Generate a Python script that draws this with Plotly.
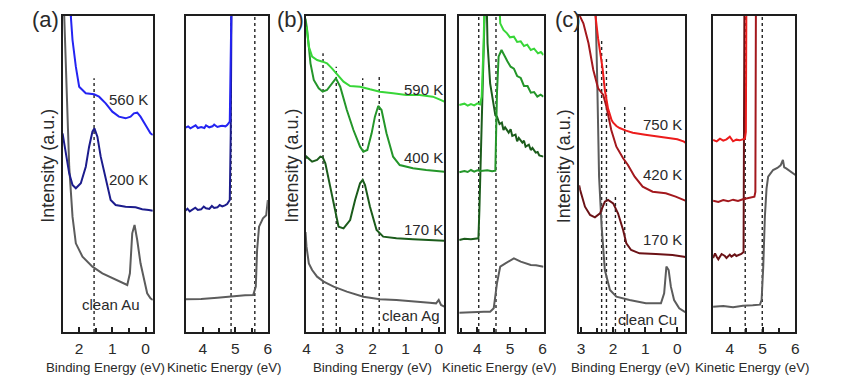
import plotly.graph_objects as go

# page body has an 8px margin; the figure is drawn from (8, 8)
OFF = 8
W, H = 844 - OFF, 388 - OFF

# ---------------- Panel (a): Au ----------------
au_be_560_x = [2.3, 2.25, 2.2, 2.1, 2.0, 1.8, 1.55, 1.4, 1.2, 1.0, 0.8, 0.6, 0.45, 0.35, 0.25, 0.15, 0.0, -0.15, -0.22]
au_be_560_y = [1100, 946, 876, 796, 736, 716, 713, 706, 686, 661, 646, 641, 646, 656, 658, 646, 621, 596, 591]
au_be_200_x = [2.5, 2.4, 2.3, 2.2, 2.1, 1.95, 1.8, 1.7, 1.6, 1.54, 1.45, 1.35, 1.2, 1.05, 0.9, 0.6, 0.3, 0.1, -0.1, -0.22]
au_be_200_y = [596, 536, 476, 441, 431, 446, 496, 556, 601, 611, 586, 526, 456, 396, 381, 376, 374, 368, 366, 364]
au_be_clean_x = [2.5, 2.45, 2.35, 2.3, 2.2, 2.1, 1.9, 1.6, 1.3, 1.0, 0.7, 0.55, 0.47, 0.4, 0.33, 0.25, 0.15, 0.05, -0.05, -0.15, -0.22]
au_be_clean_y = [1100, 946, 696, 496, 346, 266, 226, 196, 176, 161, 146, 141, 176, 296, 321, 276, 206, 156, 116, 101, 96]

au_ke_560_x = [3.47, 3.55, 3.62, 3.7, 3.78, 3.85, 3.95, 4.05, 4.1, 4.2, 4.3, 4.35, 4.45, 4.55, 4.6, 4.7, 4.75, 4.83, 4.87, 4.9]
au_ke_560_y = [613, 617, 611, 616, 620, 612, 615, 612, 620, 614, 617, 622, 615, 618, 619, 617, 621, 631, 796, 1100]
au_ke_200_x = [3.47, 3.53, 3.6, 3.7, 3.77, 3.85, 3.95, 4.03, 4.1, 4.2, 4.28, 4.35, 4.45, 4.52, 4.6, 4.68, 4.75, 4.83, 4.86, 4.89]
au_ke_200_y = [364, 370, 362, 367, 373, 366, 368, 376, 371, 369, 378, 372, 374, 381, 377, 380, 384, 396, 596, 1100]
au_ke_clean_x = [3.47, 3.95, 4.45, 4.95, 5.3, 5.55, 5.63, 5.67, 5.73, 5.85, 5.95, 6.0]
au_ke_clean_y = [98, 99, 103, 108, 110, 111, 136, 246, 316, 341, 350, 396]

au_be_marks = [1.55]
au_be_mark_tops = [761]
au_ke_marks = [4.87, 5.6]

# ---------------- Panel (b): Ag ----------------
ag_be_590_x = [4.0, 3.93, 3.83, 3.68, 3.51, 3.38, 3.23, 3.08, 2.88, 2.68, 2.38, 2.08, 1.78, 1.38, 0.98, 0.58, 0.18, -0.02, -0.17]
ag_be_590_y = [916, 856, 826, 816, 811, 806, 791, 774, 751, 738, 736, 728, 721, 716, 711, 711, 706, 698, 691]
ag_be_400_x = [4.03, 3.98, 3.88, 3.78, 3.63, 3.51, 3.38, 3.23, 3.11, 2.98, 2.78, 2.58, 2.38, 2.28, 2.16, 2.03, 1.93, 1.83, 1.73, 1.58, 1.38, 1.18, 0.78, 0.38, 0.08, -0.17]
ag_be_400_y = [940, 906, 806, 756, 731, 721, 726, 746, 761, 736, 666, 606, 556, 541, 546, 596, 646, 678, 666, 596, 526, 501, 491, 486, 484, 481]
ag_be_170_x = [4.03, 4.0, 3.83, 3.68, 3.58, 3.51, 3.43, 3.28, 3.13, 3.03, 2.88, 2.68, 2.53, 2.38, 2.3, 2.23, 2.08, 1.88, 1.68, 1.28, 0.78, 0.28, -0.17]
ag_be_170_y = [520, 526, 511, 516, 526, 524, 506, 436, 356, 316, 311, 336, 396, 446, 456, 441, 376, 306, 286, 281, 278, 276, 274]
ag_be_clean_x = [4.03, 4.0, 3.93, 3.83, 3.68, 3.48, 3.18, 2.78, 2.28, 1.78, 1.28, 0.78, 0.28, 0.08, 0.0, -0.07, -0.17]
ag_be_clean_y = [300, 256, 206, 186, 166, 151, 136, 121, 106, 98, 96, 93, 88, 86, 96, 81, 76]

ag_ke_590_x = [3.44, 3.6, 3.7, 3.8, 3.9, 4.0, 4.08, 4.13, 4.19, 4.24, 4.63, 4.70, 4.8, 4.91, 5.0, 5.12, 5.22, 5.33, 5.43, 5.53, 5.64, 5.74, 5.86, 5.95, 6.03]
ag_ke_590_y = [681, 685, 679, 684, 680, 686, 683, 706, 866, 1100, 1100, 926, 906, 896, 884, 886, 870, 872, 858, 862, 846, 850, 836, 840, 831]
ag_ke_400_x = [3.44, 3.6, 3.7, 3.8, 3.9, 4.0, 4.1, 4.3, 4.45, 4.55, 4.6, 4.65, 4.74, 4.81, 4.92, 5.02, 5.12, 5.22, 5.33, 5.43, 5.54, 5.64, 5.74, 5.84, 5.94, 6.03]
ag_ke_400_y = [479, 483, 480, 486, 481, 485, 483, 485, 482, 484, 716, 826, 846, 831, 812, 796, 790, 768, 762, 738, 738, 718, 720, 706, 712, 706]
ag_ke_170_x = [3.44, 3.6, 3.8, 4.03, 4.06, 4.13, 4.21, 4.26, 4.31, 4.39, 4.5, 4.55, 4.6, 4.68, 4.75, 4.8, 4.85, 4.96, 5.02, 5.07, 5.17, 5.22, 5.27, 5.38, 5.43, 5.48, 5.58, 5.64, 5.69, 5.79, 5.85, 5.9, 6.03]
ag_ke_170_y = [276, 280, 278, 281, 366, 666, 916, 1100, 866, 746, 676, 650, 646, 624, 628, 606, 614, 598, 608, 588, 592, 572, 582, 568, 574, 556, 562, 546, 552, 538, 540, 530, 526]
ag_ke_clean_x = [3.44, 3.8, 4.2, 4.39, 4.5, 4.6, 4.7, 4.86, 5.0, 5.12, 5.33, 5.5, 5.64, 5.8, 6.03]
ag_ke_clean_y = [58, 60, 61, 61, 71, 146, 196, 206, 214, 221, 211, 206, 201, 200, 196]

ag_be_marks = [3.5, 3.1, 2.3, 1.8]
ag_be_mark_tops = [836, 796, 761, 766]
ag_ke_marks = [4.04, 4.57]

# ---------------- Panel (c): Cu ----------------
cu_be_750_x = [2.6, 2.55, 2.47, 2.41, 2.33, 2.26, 2.16, 2.05, 2.0, 1.9, 1.8, 1.6, 1.39, 1.0, 0.67, 0.15, 0.0, -0.21, -0.25]
cu_be_750_y = [1100, 946, 880, 846, 790, 726, 670, 636, 628, 618, 612, 604, 598, 592, 588, 582, 578, 571, 568]
cu_be_420_x = [3.06, 3.03, 2.93, 2.77, 2.62, 2.47, 2.31, 2.21, 2.06, 1.9, 1.69, 1.54, 1.33, 1.08, 0.77, 0.36, 0.05, -0.21, -0.25]
cu_be_420_y = [950, 946, 926, 866, 786, 731, 711, 676, 606, 556, 521, 501, 466, 436, 421, 416, 406, 396, 394]
cu_be_170_x = [3.06, 3.03, 2.88, 2.72, 2.57, 2.41, 2.26, 2.16, 2.0, 1.85, 1.69, 1.59, 1.44, 1.18, 0.67, 0.15, -0.21, -0.25]
cu_be_170_y = [440, 426, 376, 351, 344, 356, 391, 396, 386, 356, 306, 266, 246, 236, 234, 231, 226, 225]
cu_be_clean_x = [2.58, 2.54, 2.5, 2.44, 2.36, 2.26, 2.1, 1.9, 1.49, 0.98, 0.51, 0.41, 0.34, 0.27, 0.2, 0.1, -0.06, -0.22, -0.25]
cu_be_clean_y = [1100, 946, 766, 466, 316, 186, 126, 106, 96, 86, 86, 116, 196, 186, 136, 96, 71, 61, 60]

cu_ke_750_x = [3.49, 3.6, 3.7, 3.8, 3.9, 4.0, 4.1, 4.2, 4.3, 4.4, 4.46, 4.49, 4.51]
cu_ke_750_y = [576, 572, 580, 574, 578, 586, 572, 577, 575, 578, 580, 600, 1100]
cu_ke_420_x = [3.49, 3.65, 3.8, 3.95, 4.1, 4.25, 4.4, 4.6, 4.75, 4.78, 4.8]
cu_ke_420_y = [394, 390, 396, 392, 397, 393, 398, 402, 406, 420, 1100]
cu_ke_170_x = [3.49, 3.55, 3.6, 3.65, 3.75, 3.85, 3.9, 4.0, 4.05, 4.15, 4.2, 4.3, 4.35, 4.42, 4.45]
cu_ke_170_y = [222, 236, 226, 218, 234, 228, 222, 232, 226, 233, 228, 231, 234, 240, 1100]
cu_ke_clean_x = [3.49, 3.8, 4.1, 4.4, 4.7, 4.92, 4.97, 5.02, 5.07, 5.12, 5.17, 5.32, 5.45, 5.55, 5.62, 5.66, 5.72, 5.87, 6.0]
cu_ke_clean_y = [76, 78, 74, 79, 80, 82, 96, 196, 346, 430, 466, 486, 492, 500, 516, 494, 491, 481, 471]

cu_be_marks = [2.36, 2.21, 1.93, 1.64]
cu_be_mark_tops = [876, 820, 411, 676]
cu_ke_marks = [4.47, 4.99]

# ---------------- labels ----------------
au_labels = ["560 K", "200 K", "clean Au"]
au_label_x = [0.5, 0.5, 1.05]
au_label_y = [696, 456, 84]
ag_labels = ["590 K", "400 K", "170 K", "clean Ag"]
ag_label_x = [0.46, 0.46, 0.46, 0.83]
ag_label_y = [728, 524, 306, 51]
cu_labels = ["750 K", "420 K", "170 K", "clean Cu"]
cu_label_x = [0.46, 0.46, 0.46, 0.92]
cu_label_y = [621, 471, 276, 38]
panel_letters = ["(a)", "(b)", "(c)"]

# ---------------- styling ----------------
C_GRAY = "#5c5c5c"
FONT = "Arial, Liberation Sans, sans-serif"
TXT = "#2a2a2a"

# panel boxes in page pixels (left, right)
boxes = [(60, 151), (184, 267), (305, 445), (460, 545), (581, 688), (716, 799)]
xranges = [[2.5, -0.22], [3.47, 6.0], [4.03, -0.17], [3.44, 6.03], [3.06, -0.25], [3.49, 6.0]]
TOP, BOT = 16, 332
YR = [0, 948]


def px_x(p):
    return (p - OFF) / W


def px_y(p):
    return 1 - (p - OFF) / H


fig = go.Figure()


def add_line(i, xs, ys, color, width=2.0, dash=None):
    ax = "" if i == 1 else str(i)
    fig.add_trace(go.Scatter(x=xs, y=ys, mode="lines", xaxis="x" + ax, yaxis="y" + ax,
                             line=dict(color=color, width=width, dash=dash), showlegend=False,
                             hoverinfo="skip"))


def add_marks(i, xs, tops):
    for xv, tv in zip(xs, tops):
        add_line(i, [xv, xv], [YR[0], tv], "#222222", 1.4, "dot")


add_marks(1, au_be_marks, au_be_mark_tops)
add_marks(2, au_ke_marks, [YR[1]] * len(au_ke_marks))
add_marks(3, ag_be_marks, ag_be_mark_tops)
add_marks(4, ag_ke_marks, [YR[1]] * len(ag_ke_marks))
add_marks(5, cu_be_marks, cu_be_mark_tops)
add_marks(6, cu_ke_marks, [YR[1]] * len(cu_ke_marks))

# Au
add_line(1, au_be_clean_x, au_be_clean_y, C_GRAY)
add_line(1, au_be_200_x, au_be_200_y, "#1c1c8c")
add_line(1, au_be_560_x, au_be_560_y, "#2424f2")
add_line(2, au_ke_clean_x, au_ke_clean_y, C_GRAY)
add_line(2, au_ke_200_x, au_ke_200_y, "#1c1c8c")
add_line(2, au_ke_560_x, au_ke_560_y, "#2424f2")
# Ag
add_line(3, ag_be_clean_x, ag_be_clean_y, C_GRAY)
add_line(3, ag_be_170_x, ag_be_170_y, "#1b5c1b")
add_line(3, ag_be_400_x, ag_be_400_y, "#24962a")
add_line(3, ag_be_590_x, ag_be_590_y, "#38d638")
add_line(4, ag_ke_clean_x, ag_ke_clean_y, C_GRAY)
add_line(4, ag_ke_170_x, ag_ke_170_y, "#1b5c1b")
add_line(4, ag_ke_400_x, ag_ke_400_y, "#24962a")
add_line(4, ag_ke_590_x, ag_ke_590_y, "#38d638")
# Cu
add_line(5, cu_be_clean_x, cu_be_clean_y, C_GRAY)
add_line(5, cu_be_170_x, cu_be_170_y, "#6b1216")
add_line(5, cu_be_420_x, cu_be_420_y, "#a3181d")
add_line(5, cu_be_750_x, cu_be_750_y, "#ec1c1c")
add_line(6, cu_ke_clean_x, cu_ke_clean_y, C_GRAY)
add_line(6, cu_ke_170_x, cu_ke_170_y, "#6b1216")
add_line(6, cu_ke_420_x, cu_ke_420_y, "#a3181d")
add_line(6, cu_ke_750_x, cu_ke_750_y, "#ec1c1c")

layout = dict(width=W, height=H, margin=dict(l=0, r=0, t=0, b=0),
              paper_bgcolor="white", plot_bgcolor="white", showlegend=False)

for i, ((l, r), xr) in enumerate(zip(boxes, xranges), start=1):
    ax = "" if i == 1 else str(i)
    layout["xaxis" + ax] = dict(
        domain=[px_x(l), px_x(r)], range=xr, anchor="y" + ax,
        showline=True, mirror=True, linecolor="#1e1e1e", linewidth=2,
        showgrid=False, zeroline=False, dtick=1, tick0=0,
        ticks="inside", ticklen=5, tickwidth=1.5, tickcolor="#1e1e1e",
        minor=dict(dtick=0.5, tick0=0, ticks="inside", ticklen=4, tickwidth=1.5,
                   tickcolor="#1e1e1e", showgrid=False),
        tickfont=dict(family=FONT, size=15.5, color=TXT), ticklabelstandoff=1,
        fixedrange=True)
    layout["yaxis" + ax] = dict(
        domain=[px_y(BOT), px_y(TOP)], range=YR, anchor="x" + ax,
        showline=True, mirror=True, linecolor="#1e1e1e", linewidth=2,
        showgrid=False, zeroline=False, showticklabels=False, ticks="",
        fixedrange=True)

annotations = []


def data_labels(i, texts, xs, ys):
    ax = "" if i == 1 else str(i)
    for t, xv, yv in zip(texts, xs, ys):
        annotations.append(dict(text=t, x=xv, y=yv, xref="x" + ax, yref="y" + ax,
                                showarrow=False, font=dict(family=FONT, size=15, color=TXT)))


data_labels(1, au_labels, au_label_x, au_label_y)
data_labels(3, ag_labels, ag_label_x, ag_label_y)
data_labels(5, cu_labels, cu_label_x, cu_label_y)


def paper_text(t, px, py, size, angle=0):
    annotations.append(dict(text=t, x=px_x(px), y=px_y(py), xref="paper", yref="paper",
                            showarrow=False, textangle=angle, xanchor="center", yanchor="middle",
                            font=dict(family=FONT, size=size, color=TXT)))


for (l, r), kind in zip(boxes, ["Binding Energy (eV)", "Kinetic Energy (eV)"] * 3):
    paper_text(kind, (l + r) / 2 - 2, 367, 13.3)

for px in [45, 291, 566]:
    paper_text("Intensity (a.u.)", px, 166, 18, angle=-90)

for t, px in zip(panel_letters, [43, 290, 570]):
    paper_text(t, px, 20, 22)

layout["annotations"] = annotations
fig.update_layout(**layout)
fig.write_html("out.html")
